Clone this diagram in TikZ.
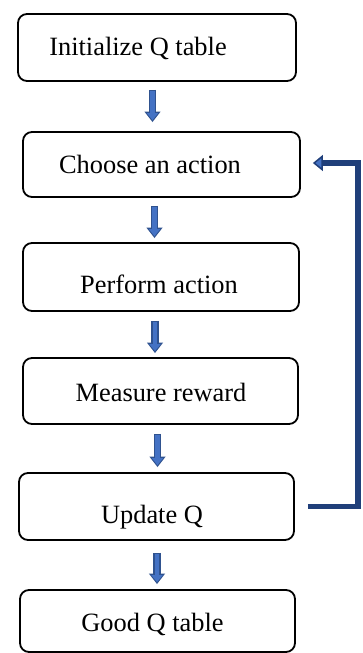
\documentclass[tikz,border=0pt]{standalone}
\usepackage{fontspec}
\setmainfont{Liberation Serif}
\usetikzlibrary{arrows.meta}
\definecolor{flowblue}{HTML}{4472C4}
\definecolor{flowdark}{HTML}{2F528F}
\definecolor{loopblue}{HTML}{203F7A}

\begin{document}
\begin{tikzpicture}[x=1pt,y=-1pt,
  stepbox/.style={draw, line width=1.8pt, rounded corners=9pt, inner sep=0pt},
  steptext/.style={anchor=base, inner sep=0pt, font=\fontsize{26.4}{30}\selectfont},
  flowout/.style={draw=flowdark, line width=7.5pt, -{Triangle[width=15.5pt,length=10.5pt]}},
  flowin/.style={draw=flowblue, line width=4.5pt, -{Triangle[width=11pt,length=7pt]}},
  loopline/.style={draw=loopblue, line width=5.5pt, -{Triangle[width=16pt,length=10pt,fill=flowblue,line width=1.5pt]}}]
  \useasboundingbox (0,0) rectangle (362,653);

  % Boxes
  \node[stepbox, minimum width=278pt, minimum height=67pt] (init) at (157,47.5) {};
  \node[stepbox, minimum width=277pt, minimum height=65pt] (choose) at (161.5,164.5) {};
  \node[stepbox, minimum width=276pt, minimum height=68pt] (perform) at (161,277) {};
  \node[stepbox, minimum width=275pt, minimum height=66pt] (measure) at (160.5,391) {};
  \node[stepbox, minimum width=275pt, minimum height=67pt] (update) at (156.5,506.5) {};
  \node[stepbox, minimum width=275pt, minimum height=62pt] (good) at (157.5,621) {};

  % Labels
  \node[steptext] (initt) at (138,55) {Initialize Q table};
  \node[steptext] (chooset) at (150,173) {Choose an action};
  \node[steptext] (performt) at (159,293) {Perform action};
  \node[steptext] (measuret) at (161,401) {Measure reward};
  \node[steptext] (updatet) at (152,523) {Update Q};
  \node[steptext] (goodt) at (152.5,631) {Good Q table};

  % Flow arrows
  \foreach \a/\b/\x/\s/\e in {init/choose/152.5/8/9, choose/perform/154.5/8/4,
      perform/measure/155/9/4, measure/update/157.5/9/5, update/good/157/12/5} {
    \coordinate (ax) at (\x,0);
    \draw[flowout, shorten <=\s pt, shorten >=\e pt]
      (\a.south -| ax) -- (\b.north -| ax);
    \draw[flowin, shorten <=\s pt+1.5pt, shorten >=\e pt+2pt]
      (\a.south -| ax) -- (\b.north -| ax);
  }

  % Loop back
  \coordinate (looptop) at (358,163);
  \draw[loopline, shorten <=13pt, shorten >=12pt]
    (update.east) -| (looptop) -- (choose.east |- looptop);
\end{tikzpicture}
\end{document}
